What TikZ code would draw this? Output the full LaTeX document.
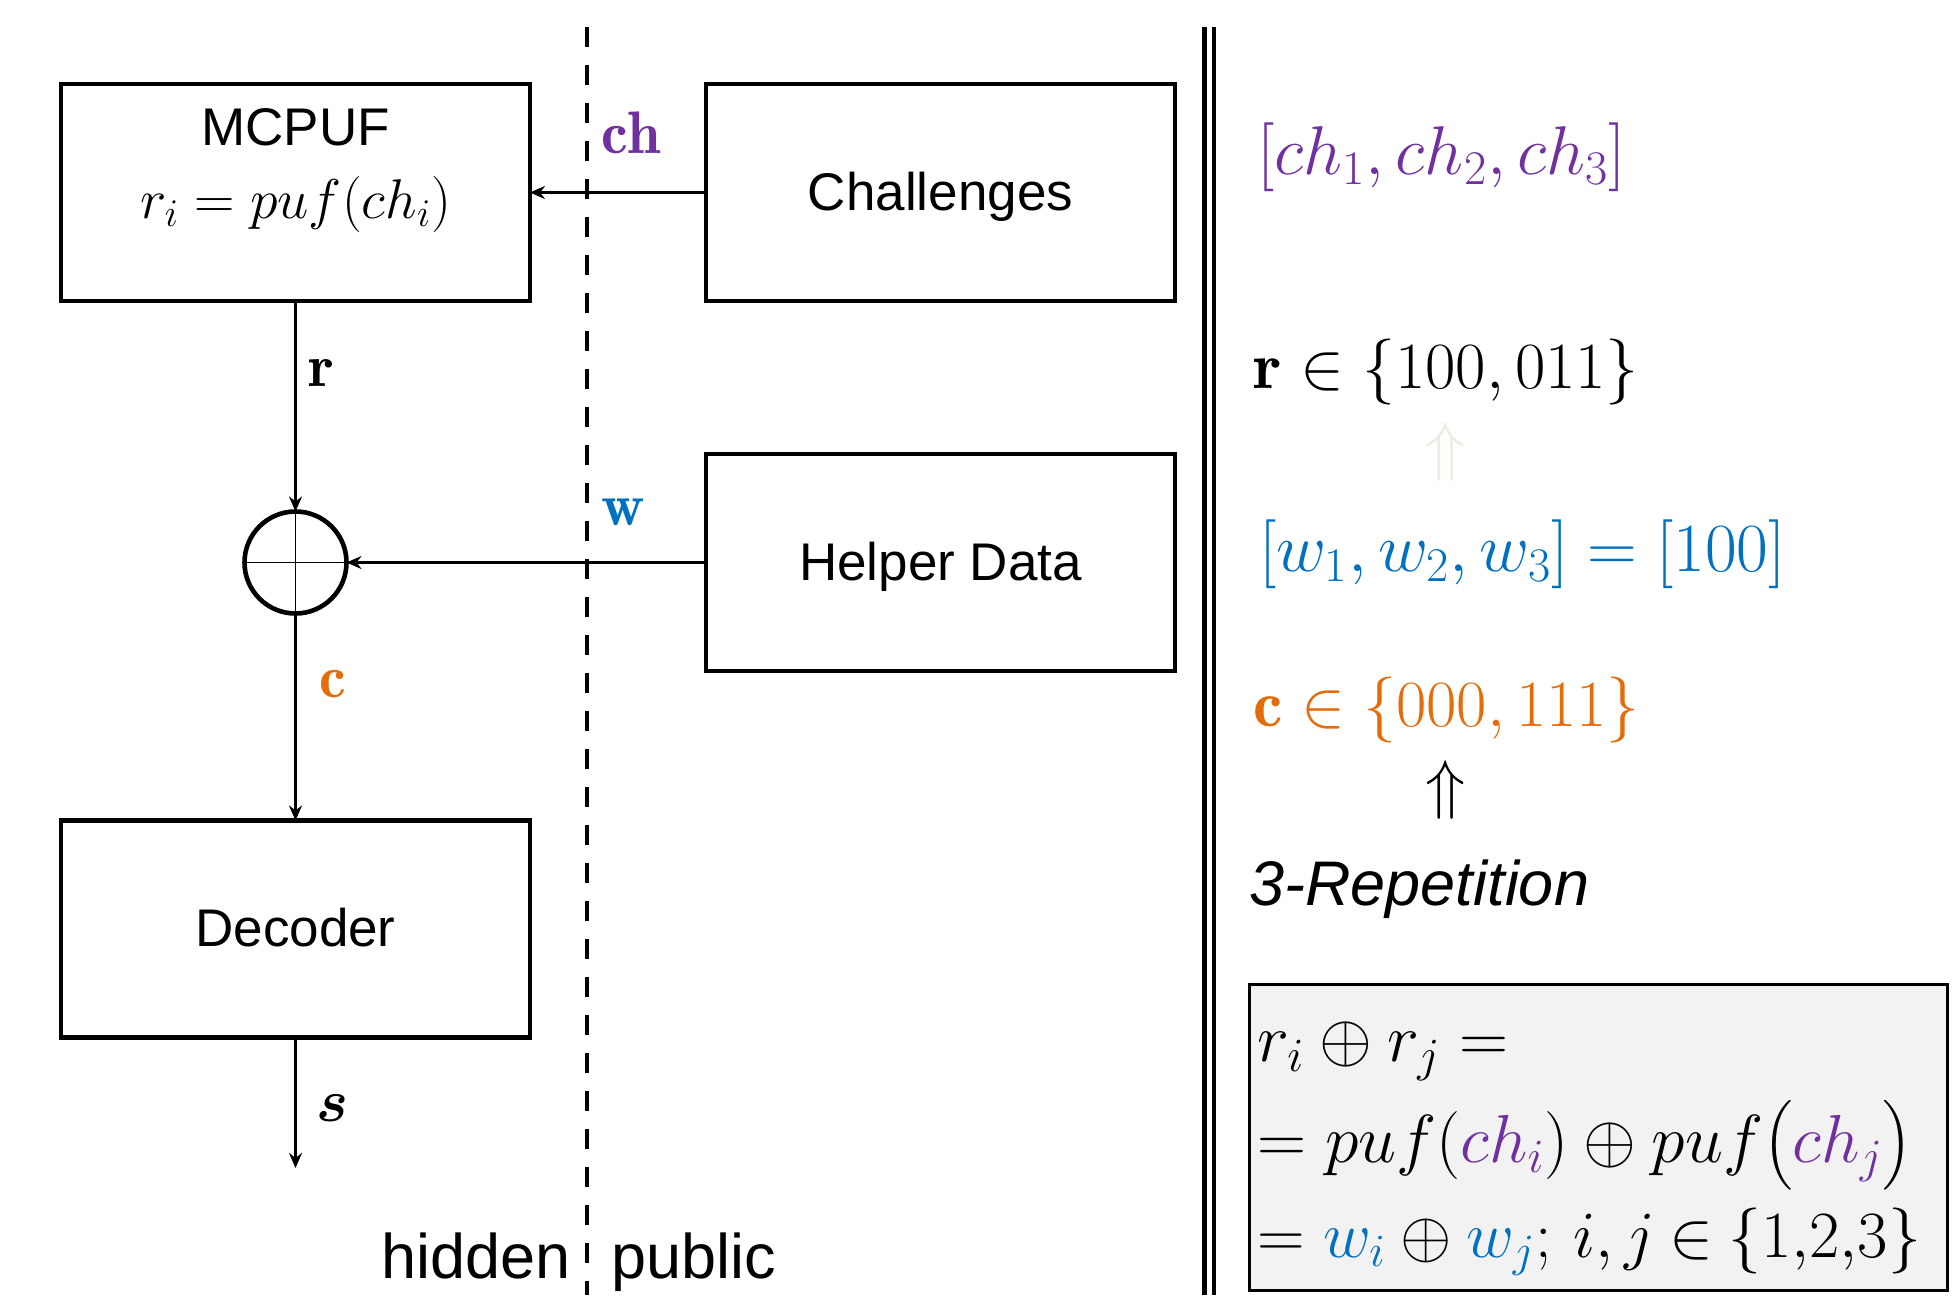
\RequirePackage{fix-cm}
\documentclass[tikz,border=0pt]{standalone}
\usepackage{amsmath}
\usepackage{fontspec}
\setsansfont{Liberation Sans}
\usetikzlibrary{arrows.meta}
\definecolor{pur}{HTML}{7030A0}
\definecolor{blu}{HTML}{0070C0}
\definecolor{ora}{HTML}{E46C0A}
\definecolor{faint}{HTML}{ECECE0}
\definecolor{boxgray}{HTML}{F2F2F2}
\tikzset{
  blk/.style={draw, line width=2.3pt, minimum width=234.5pt, minimum height=108.5pt, inner sep=0pt, outer sep=0pt},
  boxtxt/.style={font=\sffamily\fontsize{26.5}{30}\selectfont, inner sep=0pt, anchor=base},
  lbl/.style={inner sep=0pt, anchor=base, font=\fontsize{30}{36}\selectfont},
  conn/.style={line width=1.6pt, -{Stealth[length=7.5pt,width=6.5pt]}},
  mth/.style={inner sep=0pt, anchor=base west, font=\fontsize{33}{40}\selectfont},
  mthb/.style={inner sep=0pt, anchor=base west, font=\fontsize{34.5}{40}\selectfont},
  fml/.style={inner sep=0pt, anchor=base west, font=\fontsize{34}{40}\selectfont},
  bigsans/.style={font=\sffamily\fontsize{31.5}{36}\selectfont, inner sep=0pt},
}
\begin{document}
\begin{tikzpicture}[x=0.5pt,y=-0.5pt]
\useasboundingbox (0,0) rectangle (1958,1295);
% separators
\coordinate (dtop) at (587,27);
\coordinate (dbot) at (587,1295);
\draw[line width=1.8pt, dash pattern=on 10pt off 9pt] (dtop) -- (dbot);
\coordinate (l1top) at (1204.5,27);
\coordinate (l1bot) at (1204.5,1295);
\coordinate (l2top) at (1214,27);
\coordinate (l2bot) at (1214,1295);
\draw[line width=2.2pt] (l1top) -- (l1bot);
\draw[line width=2.2pt] (l2top) -- (l2bot);
% blocks
\node[blk, fill=white] (mcpuf) at (295.5,192.5) {};
\node[blk, fill=white] (chal) at (940.5,192.5) {};
\node[blk, fill=white] (help) at (940.5,562.5) {};
\node[blk, fill=white] (dec) at (295.5,929) {};
\node[circle, draw, line width=2.3pt, minimum size=51pt, inner sep=0pt, outer sep=0pt] (xor) at (295.5,562.5) {};
\draw[line width=0.8pt] (xor.north) -- (xor.south) (xor.west) -- (xor.east);
% block texts
\node[boxtxt] (tmc) at (295.5,145) {MCPUF};
\node[inner sep=0pt, anchor=base, font=\fontsize{28}{34}\selectfont] (tform) at (295.5,218) {$r_i = puf(ch_i)$};
\node[boxtxt] (tch) at (940.5,210) {Challenges};
\node[boxtxt] (thd) at (940.5,580) {Helper Data};
\node[boxtxt] (tdec) at (295.5,946) {Decoder};
% connectors
\draw[conn] (chal.west) -- (mcpuf.east);
\draw[conn] (help.west) -- (xor.east);
\draw[conn] (mcpuf.south) -- (xor.north);
\draw[conn] (xor.south) -- (dec.north);
\coordinate (send) at (295.5,1168);
\draw[conn] (dec.south) -- (send);
% labels
\node[lbl, text=pur] (lch) at (631,154) {$\mathbf{ch}$};
\node[lbl] (lr) at (321,386) {$\mathbf{r}$};
\node[lbl, text=blu] (lw) at (623,525) {$\mathbf{w}$};
\node[lbl, text=ora] (lc) at (333,697) {$\mathbf{c}$};
\node[lbl] (ls) at (332,1121) {$\boldsymbol{s}$};
\node[bigsans, anchor=base east] (hid) at (571,1278) {hidden};
\node[bigsans, anchor=base west] (pub) at (611,1278) {public};
% right column
\node[mthb, text=pur] (m1) at (1257,174) {$[ch_1, ch_2, ch_3]$};
\node[mth] (m2) at (1253,388) {$\mathbf{r} \in \{100, 011\}$};
\node[inner sep=0pt, font=\fontsize{33}{40}\selectfont, text=faint] (up1) at (1446,452) {$\Uparrow$};
\node[mthb, text=blu] (m3) at (1259,571) {$[w_1, w_2, w_3] = [100]$};
\node[mth, text=ora] (m4) at (1253,726) {$\mathbf{c} \in \{000, 111\}$};
\node[inner sep=0pt, font=\fontsize{33}{40}\selectfont] (up2) at (1446,790) {$\Uparrow$};
\node[font=\sffamily\itshape\fontsize{31.5}{36}\selectfont, inner sep=0pt, anchor=base west] (rep) at (1249,905) {3-Repetition};
% formula box
\node[draw, fill=boxgray, line width=1.5pt, minimum width=349pt, minimum height=153pt, inner sep=0pt, outer sep=0pt] (gbox) at (1598.5,1137.5) {};
\node[fml] (f1) at (1257,1061) {$r_i \oplus r_j =$};
\node[fml] (f2) at (1257,1162) {$= puf(\textcolor{pur}{ch_i}) \oplus puf\bigl(\textcolor{pur}{ch_j}\bigr)$};
\node[fml, font=\fontsize{33}{40}\selectfont] (f3) at (1257,1257) {$= \textcolor{blu}{w_i} \oplus \textcolor{blu}{w_j};\, i,j \mathbin{\in} \{1{,}2{,}3\}$};
\end{tikzpicture}
\end{document}
